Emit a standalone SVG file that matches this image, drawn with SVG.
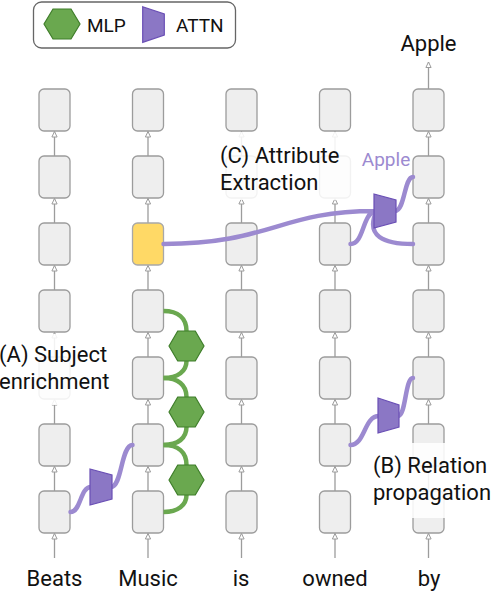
<svg xmlns="http://www.w3.org/2000/svg" width="492" height="592" viewBox="0 0 492 592">
<defs>
<style>
.box{fill:#eeeeee;stroke:#9c9c9c;stroke-width:1.3}
.hl{fill:#ffd966;stroke:#a8a8a8;stroke-width:1.3}
.ar{stroke:#9c9c9c;stroke-width:1.3;fill:none;marker-end:url(#ah)}
.attn{fill:#8b77c5;stroke:#6a4fb5;stroke-width:1.2}
.mlp{fill:#6aa84f;stroke:#3f7e2a;stroke-width:1.2}
.pl{fill:none;stroke:#9c8ad0;stroke-width:4.5;stroke-linecap:round}
.gl{fill:none;stroke:#6aa84f;stroke-width:4.5}
.t{font-family:Roboto,"Liberation Sans",sans-serif;font-size:22px;fill:#111}
.ov{fill:#ffffff;fill-opacity:0.87}
</style>
<marker id="ah" markerUnits="userSpaceOnUse" markerWidth="8" markerHeight="8" refX="0" refY="0" orient="auto" overflow="visible">
<path d="M-5.5,-2.6 L0,0 L-5.5,2.6 Z" fill="#ffffff" stroke="#9c9c9c" stroke-width="1"/>
</marker>
</defs>

<g id="legend">
<rect x="33.5" y="2" width="202" height="46" rx="8" fill="#ffffff" stroke="#666666" stroke-width="1.3"/>
<polygon class="mlp" points="44,24 53,9 71,9 80,24 71,39 53,39"/>
<text class="t" x="87" y="32" style="font-size:19px">MLP</text>
<polygon class="attn" points="142.7,6.7 164.3,14 164.3,35 142.7,42.3"/>
<text class="t" x="176" y="32" style="font-size:19px">ATTN</text>
</g>

<g id="connectors">
<line class="ar" x1="54.5" y1="558" x2="54.5" y2="533.5"/>
<line class="ar" x1="54.5" y1="491" x2="54.5" y2="466.5"/>
<line class="ar" x1="54.5" y1="424" x2="54.5" y2="399.5"/>
<line class="ar" x1="54.5" y1="357" x2="54.5" y2="332.5"/>
<line class="ar" x1="54.5" y1="290" x2="54.5" y2="265.5"/>
<line class="ar" x1="54.5" y1="223" x2="54.5" y2="198.5"/>
<line class="ar" x1="54.5" y1="156" x2="54.5" y2="131.5"/>
<line class="ar" x1="148" y1="558" x2="148" y2="533.5"/>
<line class="ar" x1="148" y1="491" x2="148" y2="466.5"/>
<line class="ar" x1="148" y1="424" x2="148" y2="399.5"/>
<line class="ar" x1="148" y1="357" x2="148" y2="332.5"/>
<line class="ar" x1="148" y1="290" x2="148" y2="265.5"/>
<line class="ar" x1="148" y1="223" x2="148" y2="198.5"/>
<line class="ar" x1="148" y1="156" x2="148" y2="131.5"/>
<line class="ar" x1="241.5" y1="558" x2="241.5" y2="533.5"/>
<line class="ar" x1="241.5" y1="491" x2="241.5" y2="466.5"/>
<line class="ar" x1="241.5" y1="424" x2="241.5" y2="399.5"/>
<line class="ar" x1="241.5" y1="357" x2="241.5" y2="332.5"/>
<line class="ar" x1="241.5" y1="290" x2="241.5" y2="265.5"/>
<line class="ar" x1="241.5" y1="223" x2="241.5" y2="198.5"/>
<line class="ar" x1="241.5" y1="156" x2="241.5" y2="131.5"/>
<line class="ar" x1="335" y1="558" x2="335" y2="533.5"/>
<line class="ar" x1="335" y1="491" x2="335" y2="466.5"/>
<line class="ar" x1="335" y1="424" x2="335" y2="399.5"/>
<line class="ar" x1="335" y1="357" x2="335" y2="332.5"/>
<line class="ar" x1="335" y1="290" x2="335" y2="265.5"/>
<line class="ar" x1="335" y1="223" x2="335" y2="198.5"/>
<line class="ar" x1="335" y1="156" x2="335" y2="131.5"/>
<line class="ar" x1="428.5" y1="558" x2="428.5" y2="533.5"/>
<line class="ar" x1="428.5" y1="491" x2="428.5" y2="466.5"/>
<line class="ar" x1="428.5" y1="424" x2="428.5" y2="399.5"/>
<line class="ar" x1="428.5" y1="357" x2="428.5" y2="332.5"/>
<line class="ar" x1="428.5" y1="290" x2="428.5" y2="265.5"/>
<line class="ar" x1="428.5" y1="223" x2="428.5" y2="198.5"/>
<line class="ar" x1="428.5" y1="156" x2="428.5" y2="131.5"/>
<line class="ar" x1="428.5" y1="89" x2="428.5" y2="62"/>
</g>

<g id="col-beats">
<rect class="box" x="39" y="89" width="31" height="42" rx="5"/>
<rect class="box" x="39" y="156" width="31" height="42" rx="5"/>
<rect class="box" x="39" y="223" width="31" height="42" rx="5"/>
<rect class="box" x="39" y="290" width="31" height="42" rx="5"/>
<rect class="box" x="39" y="357" width="31" height="42" rx="5"/>
<rect class="box" x="39" y="424" width="31" height="42" rx="5"/>
<rect class="box" x="39" y="491" width="31" height="42" rx="5"/>
</g>
<g id="col-music">
<rect class="box" x="132.5" y="89" width="31" height="42" rx="5"/>
<rect class="box" x="132.5" y="156" width="31" height="42" rx="5"/>
<rect class="hl" x="132.5" y="223" width="31" height="42" rx="5"/>
<rect class="box" x="132.5" y="290" width="31" height="42" rx="5"/>
<rect class="box" x="132.5" y="357" width="31" height="42" rx="5"/>
<rect class="box" x="132.5" y="424" width="31" height="42" rx="5"/>
<rect class="box" x="132.5" y="491" width="31" height="42" rx="5"/>
</g>
<g id="col-is">
<rect class="box" x="226" y="89" width="31" height="42" rx="5"/>
<rect class="box" x="226" y="156" width="31" height="42" rx="5"/>
<rect class="box" x="226" y="223" width="31" height="42" rx="5"/>
<rect class="box" x="226" y="290" width="31" height="42" rx="5"/>
<rect class="box" x="226" y="357" width="31" height="42" rx="5"/>
<rect class="box" x="226" y="424" width="31" height="42" rx="5"/>
<rect class="box" x="226" y="491" width="31" height="42" rx="5"/>
</g>
<g id="col-owned">
<rect class="box" x="319.5" y="89" width="31" height="42" rx="5"/>
<rect class="box" x="319.5" y="156" width="31" height="42" rx="5"/>
<rect class="box" x="319.5" y="223" width="31" height="42" rx="5"/>
<rect class="box" x="319.5" y="290" width="31" height="42" rx="5"/>
<rect class="box" x="319.5" y="357" width="31" height="42" rx="5"/>
<rect class="box" x="319.5" y="424" width="31" height="42" rx="5"/>
<rect class="box" x="319.5" y="491" width="31" height="42" rx="5"/>
</g>
<g id="col-by">
<rect class="box" x="413" y="89" width="31" height="42" rx="5"/>
<rect class="box" x="413" y="156" width="31" height="42" rx="5"/>
<rect class="box" x="413" y="223" width="31" height="42" rx="5"/>
<rect class="box" x="413" y="290" width="31" height="42" rx="5"/>
<rect class="box" x="413" y="357" width="31" height="42" rx="5"/>
<rect class="box" x="413" y="424" width="31" height="42" rx="5"/>
<rect class="box" x="413" y="491" width="31" height="42" rx="5"/>
</g>

<g id="mlp-flows">
<path class="gl" d="M163.5,311 C178,311 186.5,318 186.5,331 M186.5,361 C186.5,371 178,378 163.5,378"/>
<path class="gl" d="M163.5,378 C178,378 186.5,385 186.5,397 M186.5,427 C186.5,438 178,445 163.5,445"/>
<path class="gl" d="M163.5,445 C178,445 186.5,452 186.5,465 M186.5,495 C186.5,505 178,512 163.5,512"/>
<polygon class="mlp" points="169,346 177.75,331 195.25,331 204,346 195.25,361 177.75,361"/>
<polygon class="mlp" points="169,412 177.75,397 195.25,397 204,412 195.25,427 177.75,427"/>
<polygon class="mlp" points="169,480 177.75,465 195.25,465 204,480 195.25,495 177.75,495"/>
</g>

<g id="attn-a">
<path class="pl" d="M70.5,512 C81,512 80,487 91,487 M111,487 C122,487 121,445 132.5,445"/>
<polygon class="attn" points="90,469 112,475 112,499 90,505"/>
</g>
<g id="attn-b">
<path class="pl" d="M350.5,445 C365,445 364,416 379,416 M398,416 C406,416 405,378 413,378"/>
<polygon class="attn" points="378,398 399,405 399,427 378,433"/>
</g>
<g id="attn-c">
<path class="pl" d="M163.5,244 C270,244 280,211 375,211 M350.5,244 C364,244 362,215 375,211 M413,244 C383,244 366,236 376,212 M395,211 C405,211 404,177 413,177"/>
<polygon class="attn" points="374,194 396,200 396,222 374,228"/>
<text class="t" x="386" y="166" text-anchor="middle" style="font-size:19px;fill:#9c8ad0">Apple</text>
</g>

<g id="labels">
<rect class="ov" x="-2" y="334" width="114" height="71"/>
<text class="t" x="-1" y="362">(A) Subject</text>
<text class="t" x="-1" y="389">enrichment</text>
<rect class="ov" x="216" y="132" width="136" height="68"/>
<text class="t" x="220" y="163">(C) Attribute</text>
<text class="t" x="220" y="190">Extraction</text>
<rect class="ov" x="370" y="443" width="122" height="75"/>
<text class="t" x="373" y="473">(B) Relation</text>
<text class="t" x="373" y="500">propagation</text>
<text class="t" x="428.5" y="51" text-anchor="middle">Apple</text>
<text class="t" x="54.5" y="586" text-anchor="middle">Beats</text>
<text class="t" x="148" y="586" text-anchor="middle">Music</text>
<text class="t" x="241" y="586" text-anchor="middle">is</text>
<text class="t" x="335" y="586" text-anchor="middle">owned</text>
<text class="t" x="429" y="586" text-anchor="middle">by</text>
</g>
</svg>
